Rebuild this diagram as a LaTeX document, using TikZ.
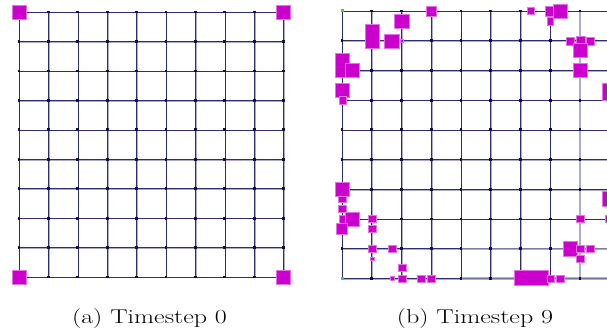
\documentclass[tikz,border=0pt]{standalone}
\definecolor{edgedark}{HTML}{2E2E6C}
\definecolor{edgelight}{HTML}{ABABCB}
\definecolor{edgemid}{HTML}{7A7AA6}
\definecolor{agent}{HTML}{CC00CC}
\definecolor{nodedot}{HTML}{10103A}
\definecolor{startpt}{HTML}{33DD33}
\tikzset{
  edgehalo/.style={draw=edgelight, line width=1.4pt},
  edgecore/.style={draw=edgedark, line width=0.6pt},
  edgepale/.style={draw=edgelight, line width=1.9pt},
  edgesoft/.style={draw=edgemid, line width=0.6pt},
  vertex/.style={rectangle, fill=nodedot, draw=none, inner sep=0pt, minimum size=2.8pt},
  startdot/.style={rectangle, fill=startpt, draw=none, inner sep=0pt, minimum size=3pt},
  agentbox/.style={fill=agent, draw=agent!55!white, line width=0.6pt},
  captext/.style={anchor=base, font=\fontsize{20}{24}\selectfont, xscale=1.3, transform shape},
}
\begin{document}
\begin{tikzpicture}[x=1pt, y=-1pt]
\useasboundingbox (0,0) rectangle (607,329);

% ---------- left grid: timestep 0 ----------
\foreach \i in {0,...,9}
  \foreach \j in {0,...,9}
    \coordinate (a-\i-\j) at ({19+29.4*\i},{12+29.45*\j});
\foreach \i in {0,...,8}
  \foreach \j in {0,...,9} {
    \pgfmathtruncatemacro\k{\i+1}
    \draw[edgehalo, transform canvas={yshift=-0.6pt}] (a-\i-\j) -- (a-\k-\j);
    \draw[edgehalo, transform canvas={xshift=0.6pt}] (a-\j-\i) -- (a-\j-\k);
  }
\foreach \i in {0,...,8}
  \foreach \j in {0,...,9} {
    \pgfmathtruncatemacro\k{\i+1}
    \draw[edgecore] (a-\i-\j) -- (a-\k-\j);
    \draw[edgecore] (a-\j-\i) -- (a-\j-\k);
  }
\foreach \i in {0,...,9}
  \foreach \j in {0,...,9}
    \node[vertex] (va-\i-\j) at (a-\i-\j) {};
\foreach \c in {a-0-0, a-9-0, a-0-9, a-9-9}
  \fill[agentbox] ([shift={(-7,-7)}]\c) rectangle ([shift={(7,7)}]\c);

% ---------- right grid: timestep 9 ----------
\begin{scope}
\clip (320,0) rectangle (607,300);
\foreach \i in {0,...,9}
  \foreach \j in {0,...,9}
    \coordinate (b-\i-\j) at ({342+29.74*\i},{11+29.7*\j});
\foreach \i in {0,...,8}
  \foreach \j in {0,...,9} {
    \pgfmathtruncatemacro\k{\i+1}
    \draw[edgehalo, transform canvas={yshift=-0.6pt}] (b-\i-\j) -- (b-\k-\j);
    \draw[edgehalo, transform canvas={xshift=0.6pt}] (b-\j-\i) -- (b-\j-\k);
  }
\foreach \i in {0,...,8}
  \foreach \j in {0,...,9} {
    \pgfmathtruncatemacro\k{\i+1}
    \ifnum\j=8\relax\else
      \draw[edgecore] (b-\j-\i) -- (b-\j-\k);
    \fi
  }
\foreach \i in {0,...,8}
  \foreach \j in {0,...,7} {
    \pgfmathtruncatemacro\k{\i+1}
    \draw[edgecore] (b-\i-\j) -- (b-\k-\j);
  }
\foreach \i in {0,...,3}
  \foreach \j in {8,9} {
    \pgfmathtruncatemacro\k{\i+1}
    \draw[edgecore] (b-\i-\j) -- (b-\k-\j);
  }
% lightly used links
\foreach \i in {0,...,8} {
  \pgfmathtruncatemacro\k{\i+1}
  \draw[edgepale] (b-8-\i) -- (b-8-\k);
}
\foreach \i in {4,...,8}
  \foreach \j in {8,9} {
    \pgfmathtruncatemacro\k{\i+1}
    \draw[edgepale] (b-\i-\j) -- (b-\k-\j);
    \draw[edgesoft] (b-\i-\j) -- (b-\k-\j);
  }
\foreach \i in {0,...,9}
  \foreach \j in {0,...,9}
    \node[vertex] (vb-\i-\j) at (b-\i-\j) {};
\node[startdot] (sb-top) at (b-0-0) {};
\node[startdot] (sb-bot) at (b-0-9) {};

% agents
\foreach \xa/\ya/\xb/\yb in {
  426.7/6.5/436/16, 394.3/14/409.3/28.5, 365/24/379.3/48.3, 384.5/34/399.5/48.3,
  400.2/39.7/402.8/42.3,
  335/53.3/349.3/77.3, 345/63.3/359.3/77.3, 335/83.3/349.3/97.7, 339/96.7/346/104,
  527.7/7.3/534/14.7, 545.3/6.7/555/16.7, 553.3/4/567.3/18.3, 547/17.3/553.7/25,
  566.7/37.7/574/45, 586.7/37.7/594/45, 576/36/585/43.3, 573.3/43.3/587.3/57.3,
  573.3/63.3/587.3/77.3, 602.7/83.3/616/100,
  335/182.3/349.3/196.7, 338.3/196/346/202.7, 338.3/205.7/346/212.7,
  339.3/215.7/346/223.3, 345/212.3/359.3/226, 336.7/223.3/347.7/234.3,
  368.7/215.7/376/222.7, 368.7/225.7/376/232.7, 368.7/245.7/376/252.7,
  370.7/257.3/374/260.7, 388.3/245.7/396/252.7, 398/264.7/406/271.7,
  398/275/406/282.3, 390/276/394.3/280.7, 417.7/275/425.3/282.3,
  427.7/275/435.3/282.3,
  602.7/191.7/616/206.7, 576.7/215.7/584/222.7, 605.7/215.7/613/222.7,
  563.3/241.7/577.3/256, 576.7/245.7/584/252.7, 586.7/245.7/594/252.7,
  576.7/255/584/262.7, 514/270.7/548.3/285, 547.3/275/554/282.3,
  556.7/275/564/282.3}
  \fill[agentbox] (\xa,\ya) rectangle (\xb,\yb);
\end{scope}

% ---------- captions ----------
\node[captext] (capa) at (149.5,323) {(a) Timestep 0};
\node[captext] (capb) at (475,323) {(b) Timestep 9};
\end{tikzpicture}
\end{document}
